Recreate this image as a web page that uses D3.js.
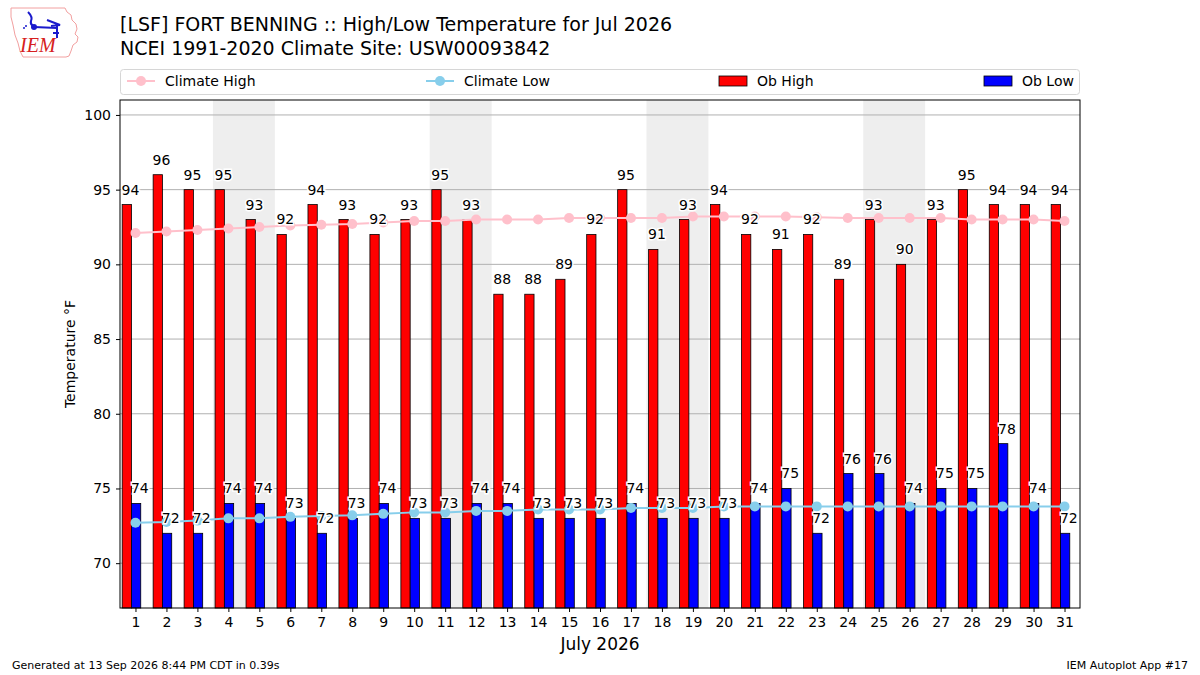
<!DOCTYPE html>
<html>
<head>
<meta charset="utf-8">
<script src="https://cdn.jsdelivr.net/npm/d3@7"></script>
<style>
  body { margin: 0; background: #fff; }
  svg { font-family: "DejaVu Sans", sans-serif; }
</style>
</head>
<body>
<svg id="chart" width="1200" height="675"></svg>
<script>
// Daily values for Jul 2026
const days = d3.range(1, 32)
const obHigh = [94, 96, 95, 95, 93, 92, 94, 93, 92, 93, 95, 93, 88, 88, 89, 92,
  95, 91, 93, 94, 92, 91, 92, 89, 93, 90, 93, 95, 94, 94, 94]
const obLow = [74, 72, 72, 74, 74, 73, 72, 73, 74, 73, 73, 74, 74, 73, 73, 73,
  74, 73, 73, 73, 74, 75, 72, 76, 76, 74, 75, 75, 78, 74, 72]
const climateHigh = [92.1, 92.2, 92.3, 92.4, 92.5, 92.6, 92.65, 92.7, 92.8, 92.9, 92.9,
  93.0, 93.0, 93.0, 93.1, 93.1, 93.1, 93.1, 93.2, 93.2, 93.2, 93.2, 93.15, 93.1,
  93.1, 93.1, 93.1, 93.0, 93.0, 93.0, 92.9]
const climateLow = [72.7, 72.75, 72.85, 73.0, 73.0, 73.1, 73.15, 73.2, 73.3, 73.4, 73.4,
  73.5, 73.5, 73.6, 73.6, 73.6, 73.7, 73.7, 73.7, 73.8, 73.8, 73.8, 73.8, 73.8,
  73.8, 73.8, 73.8, 73.8, 73.8, 73.8, 73.8]
const weekends = [[4, 5], [11, 12], [18, 19], [25, 26]]
const yTicks = [70, 75, 80, 85, 90, 95, 100]

const pink = '#ffc0cb'
const skyBlue = '#87ceeb'
const gridGrey = '#b0b0b0'
const shadeGrey = '#eeeeee'

const svg = d3.select('#chart')
const margin = { left: 120, right: 1080, top: 100, bottom: 608 }

const x = d3.scaleLinear().domain([0.5, 31.5]).range([margin.left, margin.right])
const y = d3.scaleLinear().domain([67, 101]).range([margin.bottom, margin.top])
const dayW = x(1) - x(0)

/* Logo (rough IEM mark) */
const logo = svg.append('g').attr('transform', 'translate(9,7)')
logo.append('path')
  .attr('d', 'M2,1 L56,1 L58,5 L62,8 L63,13 L67,17 L68,22 L66,27 L69,30 L68,35 L64,38 L62,44 L60,49 L57,50 L14,50 L11,44 L9,36 L6,28 L4,18 L2,10 Z')
  .attr('fill', 'none')
  .attr('stroke', '#f2a0a0')
  .attr('stroke-width', 1)
logo.append('path')
  .attr('d', 'M19,5 Q24,10 22,14 Q21,17 24,19 M25,20 L48,21 M38,13 L51,18 L42,19 M48,18 L48,31 M44,26 L50,26')
  .attr('fill', 'none')
  .attr('stroke', '#1a1acc')
  .attr('stroke-width', 2)
logo.append('circle').attr('cx', 25).attr('cy', 20).attr('r', 3).attr('fill', '#1a1acc')
logo.append('circle').attr('cx', 17).attr('cy', 19).attr('r', 1).attr('fill', '#1a1acc')
logo.append('circle').attr('cx', 15).attr('cy', 21).attr('r', 1).attr('fill', '#1a1acc')
logo.append('text')
  .attr('x', 11).attr('y', 45)
  .attr('font-family', '"Liberation Serif", serif')
  .attr('font-style', 'italic')
  .attr('font-size', 20)
  .attr('fill', '#d62020')
  .text('IEM')

/* Titles */
svg.append('text')
  .attr('x', 120).attr('y', 31)
  .attr('font-size', 19)
  .text('[LSF] FORT BENNING :: High/Low Temperature for Jul 2026')
svg.append('text')
  .attr('x', 120).attr('y', 55)
  .attr('font-size', 19)
  .text('NCEI 1991-2020 Climate Site: USW00093842')

/* Weekend shading */
const plot = svg.append('g')
weekends.forEach(w => {
  plot.append('rect')
    .attr('x', x(w[0] - 0.5))
    .attr('y', margin.top)
    .attr('width', x(w[1] + 0.5) - x(w[0] - 0.5))
    .attr('height', margin.bottom - margin.top)
    .attr('fill', shadeGrey)
})

/* Grid */
plot.selectAll('.grid').data(yTicks).join('line')
  .attr('x1', margin.left).attr('x2', margin.right)
  .attr('y1', d => y(d)).attr('y2', d => y(d))
  .attr('stroke', gridGrey)
  .attr('stroke-width', 1)

/* Bars */
plot.selectAll('.hi').data(days).join('rect')
  .attr('x', d => x(d - 0.43))
  .attr('y', d => y(obHigh[d - 1]))
  .attr('width', dayW * 0.3)
  .attr('height', d => margin.bottom - y(obHigh[d - 1]))
  .attr('fill', 'red')
  .attr('stroke', 'black')
  .attr('stroke-width', 0.8)

plot.selectAll('.lo').data(days).join('rect')
  .attr('x', d => x(d - 0.13))
  .attr('y', d => y(obLow[d - 1]))
  .attr('width', dayW * 0.3)
  .attr('height', d => margin.bottom - y(obLow[d - 1]))
  .attr('fill', 'blue')
  .attr('stroke', 'black')
  .attr('stroke-width', 0.8)

/* Climate lines */
function climateLine (values, colour) {
  const line = d3.line().x(d => x(d)).y(d => y(values[d - 1]))
  plot.append('path')
    .attr('d', line(days))
    .attr('fill', 'none')
    .attr('stroke', colour)
    .attr('stroke-width', 2)
  plot.selectAll(null).data(days).join('circle')
    .attr('cx', d => x(d))
    .attr('cy', d => y(values[d - 1]))
    .attr('r', 5)
    .attr('fill', colour)
}
climateLine(climateHigh, pink)
climateLine(climateLow, skyBlue)

/* Bar labels */
function barLabels (values, offset) {
  plot.selectAll(null).data(days).join('text')
    .attr('x', d => x(d + offset))
    .attr('y', d => y(values[d - 1]) - 10)
    .attr('text-anchor', 'middle')
    .attr('font-size', 14)
    .attr('stroke', 'white')
    .attr('stroke-width', 3)
    .attr('paint-order', 'stroke')
    .attr('fill', 'black')
    .text(d => values[d - 1])
}
barLabels(obHigh, -0.16)
barLabels(obLow, 0.14)

/* Frame */
svg.append('rect')
  .attr('x', margin.left).attr('y', margin.top)
  .attr('width', margin.right - margin.left)
  .attr('height', margin.bottom - margin.top)
  .attr('fill', 'none')
  .attr('stroke', 'black')
  .attr('stroke-width', 1)

/* Axes */
const xAxis = svg.append('g')
  .attr('transform', `translate(0,${margin.bottom})`)
  .call(d3.axisBottom(x).tickValues(days).tickSize(4).tickPadding(5))
xAxis.select('.domain').remove()
xAxis.selectAll('text').attr('font-size', 14).attr('font-family', '"DejaVu Sans"')

const yAxis = svg.append('g')
  .attr('transform', `translate(${margin.left},0)`)
  .call(d3.axisLeft(y).tickValues(yTicks).tickSize(4).tickPadding(5))
yAxis.select('.domain').remove()
yAxis.selectAll('text').attr('font-size', 14).attr('font-family', '"DejaVu Sans"')

svg.append('text')
  .attr('x', 600).attr('y', 650)
  .attr('text-anchor', 'middle')
  .attr('font-size', 17)
  .text('July 2026')

svg.append('text')
  .attr('transform', 'translate(75,354) rotate(-90)')
  .attr('text-anchor', 'middle')
  .attr('font-size', 14)
  .text('Temperature °F')

/* Legend */
const legend = svg.append('g')
legend.append('rect')
  .attr('x', 120.5).attr('y', 69.5)
  .attr('width', 959).attr('height', 25)
  .attr('rx', 3)
  .attr('fill', 'white')
  .attr('stroke', '#d6d6d6')

const legendItems = [
  { label: 'Climate High', kind: 'line', colour: pink, x: 127 },
  { label: 'Climate Low', kind: 'line', colour: skyBlue, x: 426 },
  { label: 'Ob High', kind: 'patch', colour: 'red', x: 719 },
  { label: 'Ob Low', kind: 'patch', colour: 'blue', x: 984 }
]
legendItems.forEach(item => {
  if (item.kind === 'line') {
    legend.append('line')
      .attr('x1', item.x).attr('x2', item.x + 28)
      .attr('y1', 81).attr('y2', 81)
      .attr('stroke', item.colour).attr('stroke-width', 2)
    legend.append('circle')
      .attr('cx', item.x + 14).attr('cy', 81).attr('r', 5)
      .attr('fill', item.colour)
  } else {
    legend.append('rect')
      .attr('x', item.x).attr('y', 76)
      .attr('width', 28).attr('height', 10)
      .attr('fill', item.colour)
      .attr('stroke', 'black').attr('stroke-width', 0.8)
  }
  legend.append('text')
    .attr('x', item.x + 38).attr('y', 86)
    .attr('font-size', 14)
    .text(item.label)
})

/* Footer */
svg.append('text')
  .attr('x', 12).attr('y', 669)
  .attr('font-size', 11)
  .text('Generated at 13 Sep 2026 8:44 PM CDT in 0.39s')
svg.append('text')
  .attr('x', 1188).attr('y', 669)
  .attr('text-anchor', 'end')
  .attr('font-size', 11)
  .text('IEM Autoplot App #17')
</script>
</body>
</html>
